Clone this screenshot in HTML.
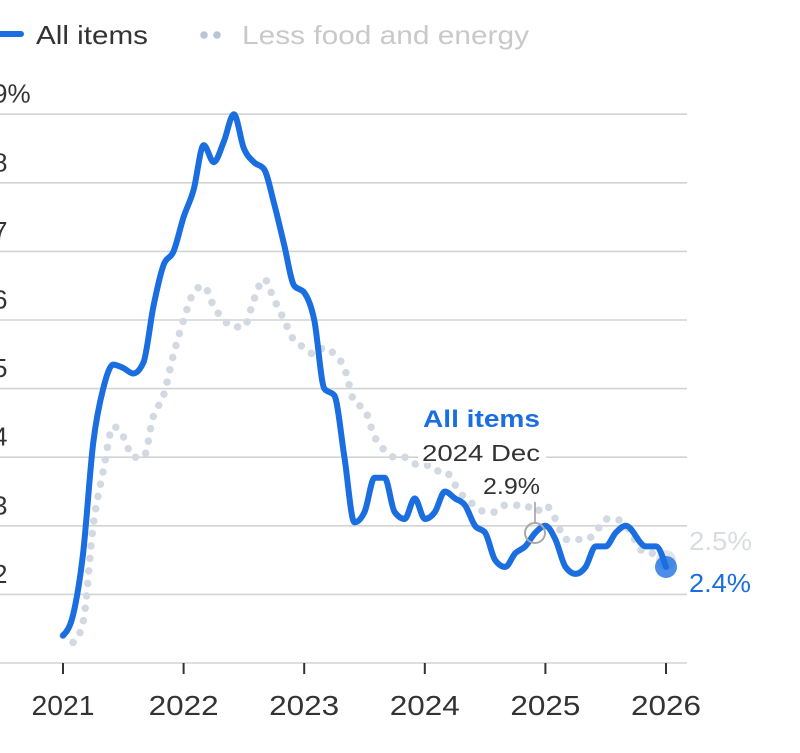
<!DOCTYPE html>
<html><head><meta charset="utf-8">
<style>
html,body{margin:0;padding:0;background:#fff;}
svg{display:block;}
text{font-family:"Liberation Sans",sans-serif;}
</style></head>
<body>
<svg id="c" width="800" height="753" viewBox="0 0 800 753" xmlns="http://www.w3.org/2000/svg">
<rect width="800" height="753" fill="#fff"/>

<!-- legend -->
<line x1="-6" y1="34" x2="21" y2="34" stroke="#1a6ee0" stroke-width="6" stroke-linecap="round"/>
<text x="36" y="44" font-size="26" fill="#333" textLength="112" lengthAdjust="spacingAndGlyphs">All items</text>
<circle cx="204" cy="35" r="3.8" fill="#b9c5d4"/>
<circle cx="217" cy="35" r="3.8" fill="#b9c5d4"/>
<text x="242" y="44" font-size="26" fill="#c9c9c9" textLength="287" lengthAdjust="spacingAndGlyphs">Less food and energy</text>

<!-- grid -->
<g id="grid" stroke="#d3d3d3" stroke-width="1.6"></g>
<g id="ylab" font-size="26" fill="#333"></g>
<g id="ticks" stroke="#333" stroke-width="2"></g>
<g id="xlab" font-size="28" fill="#333"></g>

<!-- series -->
<path id="core" fill="none" stroke="#d2d9e3" stroke-width="7.5" stroke-linecap="round" stroke-dasharray="0 12.5"/>
<circle id="coreEnd" r="10" fill="#e0e5ec"/>
<path id="all" fill="none" stroke="#1a6ee0" stroke-width="6" stroke-linejoin="round" stroke-linecap="round"/>
<circle id="allEnd" r="11" fill="#1a6ee0" fill-opacity="0.78"/>

<!-- annotation -->
<rect x="418" y="441" width="128" height="22" fill="#fff"/>
<text x="423" y="427" font-size="24" font-weight="bold" fill="#1a6ee0" textLength="117" lengthAdjust="spacingAndGlyphs">All items</text>
<text x="422" y="461" font-size="23" fill="#333" textLength="118" lengthAdjust="spacingAndGlyphs">2024 Dec</text>
<text x="483" y="494" font-size="23" fill="#333" textLength="57" lengthAdjust="spacingAndGlyphs">2.9%</text>
<line x1="535" y1="502" x2="535" y2="523" stroke="#9a9a9a" stroke-width="1.5"/>
<circle cx="535" cy="533" r="10" fill="none" stroke="#a8a8a8" stroke-width="2"/>

<!-- end labels -->
<text x="689" y="550" font-size="26" fill="#d9dce1" textLength="63" lengthAdjust="spacingAndGlyphs">2.5%</text>
<text x="689" y="592" font-size="26" fill="#1a6ee0" textLength="62" lengthAdjust="spacingAndGlyphs">2.4%</text>
</svg>

<script>
(function(){
var NS="http://www.w3.org/2000/svg";
function X(i){return 63+i*10.05;}
function Y(v){return 663-(v-1)*68.6;}
function el(tag,attrs,parent,txt){var e=document.createElementNS(NS,tag);for(var k in attrs)e.setAttribute(k,attrs[k]);if(txt!==undefined)e.textContent=txt;parent.appendChild(e);return e;}

var grid=document.getElementById('grid'),ylab=document.getElementById('ylab');
for(var v=1;v<=9;v++){
  var y=Y(v);
  el('line',{x1:0,y1:y,x2:687,y2:y},grid);
  if(v>=2){ el('text',{x:-7,y:y-11.5},ylab,v===9?'9%':String(v)); }
}
var ticks=document.getElementById('ticks'),xlab=document.getElementById('xlab');
var years=['2021','2022','2023','2024','2025','2026'];
for(var k=0;k<6;k++){
  var x=X(k*12);
  el('line',{x1:x,y1:663,x2:x,y2:674},ticks);
  var w=k===0?63:70;
  el('text',{x:x-w/2,y:715,textLength:w,lengthAdjust:'spacingAndGlyphs'},xlab,years[k]);
}

var A=[1.4,1.7,2.6,4.2,5.0,5.35,5.3,5.22,5.38,6.2,6.8,7.0,
7.5,7.9,8.55,8.3,8.6,9.0,8.5,8.3,8.2,7.7,7.1,6.5,
6.4,6.0,5.0,4.9,4.0,3.05,3.2,3.7,3.7,3.2,3.1,3.4,
3.1,3.2,3.5,3.4,3.3,3.0,2.9,2.5,2.4,2.6,2.7,2.9,
3.0,2.8,2.4,2.3,2.4,2.7,2.7,2.9,3.0,null,2.7,2.7,
2.4];
var C=[1.4,1.3,1.6,3.0,3.8,4.45,4.3,4.0,4.0,4.6,4.9,5.5,
6.0,6.4,6.5,6.2,6.0,5.9,5.9,6.3,6.6,6.3,6.0,5.7,
5.6,5.5,5.6,5.5,5.3,4.8,4.7,4.3,4.1,4.0,4.0,3.9,
3.9,3.8,3.8,3.6,3.4,3.3,3.2,3.2,3.3,3.3,3.3,3.2,
3.3,3.1,2.8,2.8,2.8,2.9,3.1,3.1,3.0,null,2.6,2.6,
2.5];

function pts(arr){var p=[];for(var i=0;i<arr.length;i++){if(arr[i]!==null)p.push([X(i),Y(arr[i])]);}return p;}
function sg(x){return x<0?-1:1;}
function mono(p){
  var n=p.length,s=[],t=[];
  for(var i=0;i<n-1;i++)s.push((p[i+1][1]-p[i][1])/(p[i+1][0]-p[i][0]));
  for(var i=1;i<n-1;i++){
    var h0=p[i][0]-p[i-1][0],h1=p[i+1][0]-p[i][0],s0=s[i-1],s1=s[i];
    var q=(s0*h1+s1*h0)/(h0+h1);
    t[i]=(sg(s0)+sg(s1))*Math.min(Math.abs(s0),Math.abs(s1),0.5*Math.abs(q))||0;
  }
  t[0]=(3*s[0]-t[1])/2;
  t[n-1]=(3*s[n-2]-t[n-2])/2;
  var d='M'+p[0][0].toFixed(2)+','+p[0][1].toFixed(2);
  for(var i=0;i<n-1;i++){
    var dx=(p[i+1][0]-p[i][0])/3;
    d+='C'+(p[i][0]+dx).toFixed(2)+','+(p[i][1]+dx*t[i]).toFixed(2)+' '+
       (p[i+1][0]-dx).toFixed(2)+','+(p[i+1][1]-dx*t[i+1]).toFixed(2)+' '+
       p[i+1][0].toFixed(2)+','+p[i+1][1].toFixed(2);
  }
  return d;
}
var pa=pts(A),pc=pts(C);
document.getElementById('all').setAttribute('d',mono(pa));
document.getElementById('core').setAttribute('d',mono(pc));
var ea=pa[pa.length-1],ec=pc[pc.length-1];
var ae=document.getElementById('allEnd');ae.setAttribute('cx',ea[0]);ae.setAttribute('cy',ea[1]);
var ce=document.getElementById('coreEnd');ce.setAttribute('cx',ec[0]);ce.setAttribute('cy',ec[1]);
})();
</script>
</body></html>
